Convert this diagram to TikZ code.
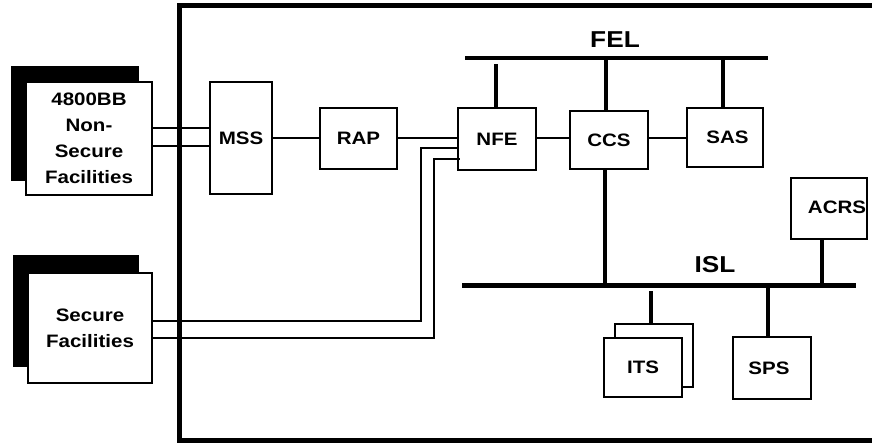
\documentclass[tikz,border=0pt]{standalone}
\usepackage{fontspec}
\setmainfont[FakeStretch=1.14]{Liberation Sans}
\usetikzlibrary{calc}
\begin{document}
\begin{tikzpicture}[x=1pt,y=-1pt,
  box/.style={draw, line width=2.4pt, fill=white, inner sep=0pt, align=center,
    font=\bfseries\fontsize{18}{26}\selectfont},
  lbl/.style={inner sep=0pt, align=center, font=\bfseries\fontsize{18}{26}\selectfont},
  buslbl/.style={inner sep=0pt, font=\bfseries\fontsize{23}{26}\selectfont},
  thin/.style={line width=2pt},
  bus/.style={line width=4.5pt},
  drop/.style={line width=4pt},
  frame/.style={line width=5pt}]
\useasboundingbox (0,0) rectangle (872,442);
% outer frame
\coordinate (ftr) at (875,5.5);
\coordinate (ftl) at (179.5,5.5);
\coordinate (fbl) at (179.5,440);
\coordinate (fbr) at (875,440);
\draw[frame] (ftr) -- (ftl) -- (fbl) -- (fbr);

% left facilities with shadows
\node[box, minimum width=126, minimum height=113] (nsf) at (89,138.5) {4800BB\\Non-\\Secure\\Facilities};
\fill[black] ($(nsf.north west)+(-14,-15)$) rectangle ($(nsf.south east)+(-14,-15)$);
\node[box, minimum width=126, minimum height=113] at (89,138.5) {4800BB\\Non-\\Secure\\Facilities};

\node[box, minimum width=124, minimum height=110] (sf) at (90,328) {Secure\\Facilities};
\fill[black] ($(sf.north west)+(-14,-17)$) rectangle ($(sf.south east)+(-14,-17)$);
\node[box, minimum width=124, minimum height=110] at (90,328) {Secure\\Facilities};

% boxes
\node[box, minimum width=62, minimum height=112] (mss) at (241,138) {MSS};
\node[box, minimum width=77, minimum height=61] (rap) at (358.5,138.5) {RAP};
\node[box, minimum width=78, minimum height=62] (nfe) at (497,139) {NFE};
\node[box, minimum width=78, minimum height=58] (ccs) at (609,140) {CCS};
\node[box, minimum width=76, minimum height=59] (sas) at (725,137.5) {\hspace*{5pt}SAS};
\node[box, minimum width=76, minimum height=61] (acrs) at (829,208.5) {};
\node[lbl] (acrst) at (837,207) {ACRS};
\node[box, minimum width=78, minimum height=63] (itsb) at (654,355.5) {};
\node[box, minimum width=78, minimum height=59] (its) at (643,367.5) {ITS};
\node[box, minimum width=78, minimum height=62] (sps) at (772,368) {\raisebox{-2pt}{SPS}\hspace*{6pt}};

% buses
\coordinate (fel1) at (465,58);
\coordinate (fel2) at (768,58);
\draw[bus] (fel1) -- (fel2);
\node[buslbl] (fel) at (615,40) {FEL};
\coordinate (isl1) at (462,285.5);
\coordinate (isl2) at (856,285.5);
\draw[bus] (isl1) -- (isl2);
\node[buslbl] (isl) at (715,265) {ISL};

% drops
\draw[drop] (496,64) -- (nfe.north -| 496,0);
\draw[drop] (606,58) -- (ccs.north -| 606,0);
\draw[drop] (ccs.south -| 605,0) -- (605,287.5);
\draw[drop] (723,58) -- (sas.north -| 723,0);
\draw[drop] (acrs.south -| 822,0) -- (822,285.5);
\draw[drop] (651,291) -- (itsb.north -| 651,0);
\draw[drop] (768,287) -- (sps.north -| 768,0);

% thin connectors
\draw[thin] (nsf.east |- 0,128) -- (mss.west |- 0,128);
\draw[thin] (nsf.east |- 0,146) -- (mss.west |- 0,146);
\draw[thin] (mss.east |- 0,137.5) -- (rap.west |- 0,137.5);
\draw[thin] (rap.east |- 0,138) -- (nfe.west |- 0,138);
\draw[thin] (nfe.east |- 0,137.5) -- (ccs.west |- 0,137.5);
\draw[thin] (ccs.east |- 0,137.5) -- (sas.west |- 0,137.5);
\draw[thin] (sf.east |- 0,321) -- (421,321) -- (421,148) -- (nfe.west |- 0,148);
\draw[thin] (sf.east |- 0,338) -- (434,338) -- (434,159) -- (460,159);
\end{tikzpicture}
\end{document}
